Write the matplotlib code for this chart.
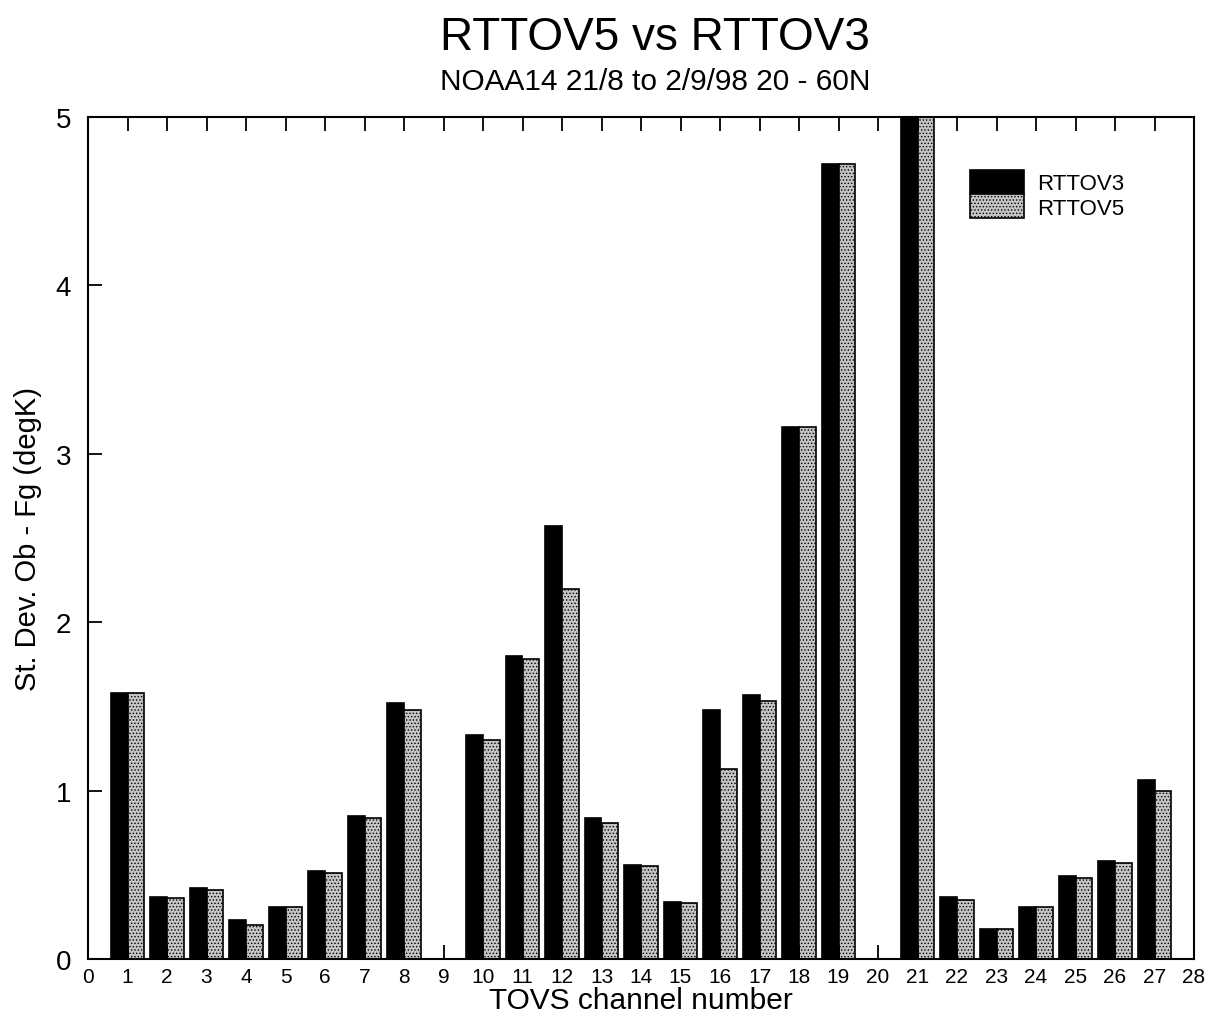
import matplotlib
matplotlib.use("Agg")
import matplotlib.pyplot as plt
import numpy as np

plt.rcParams['font.family'] = ['Liberation Sans', 'DejaVu Sans']
plt.rcParams['hatch.linewidth'] = 0.6

channels = [1, 2, 3, 4, 5, 6, 7, 8, 10, 11, 12, 13, 14, 15, 16, 17, 18, 19,
            21, 22, 23, 24, 25, 26, 27]
rttov3 = [1.58, 0.37, 0.42, 0.23, 0.31, 0.52, 0.85, 1.52, 1.33, 1.80, 2.57,
          0.84, 0.56, 0.34, 1.48, 1.57, 3.16, 4.72, 5.0, 0.37, 0.18, 0.31,
          0.49, 0.58, 1.06]
rttov5 = [1.58, 0.36, 0.41, 0.20, 0.31, 0.51, 0.84, 1.48, 1.30, 1.78, 2.20,
          0.81, 0.55, 0.33, 1.13, 1.53, 3.16, 4.72, 5.0, 0.35, 0.18, 0.31,
          0.48, 0.57, 1.00]
xticks = list(range(0, 29))
yticks = [0, 1, 2, 3, 4, 5]

L, R, T, B = 88, 1194, 118, 960
fig = plt.figure(figsize=(12.11, 10.20), dpi=100)
ax = fig.add_axes([L/1211, 1 - B/1020, (R - L)/1211, (B - T)/1020])

x = np.array(channels, dtype=float)
w = 0.42
ax.bar(x - w/2, rttov3, width=w, color='black', edgecolor='black',
       linewidth=1.2, label='RTTOV3')
ax.bar(x + w/2, rttov5, width=w, facecolor='#c4c4c4', edgecolor='black',
       hatch='.....', linewidth=1.2, label='RTTOV5')

ax.set_xlim(0, 28)
ax.set_ylim(0, 5)
ax.set_xticks(xticks)
ax.set_xticklabels([str(t) for t in xticks], fontsize=15)
ax.set_yticks(yticks)
ax.set_yticklabels([str(t) for t in yticks], fontsize=20)
ax.tick_params(axis='x', direction='in', length=10, width=1.3, top=True,
               bottom=True, pad=6)
ax.tick_params(axis='y', direction='in', length=10, width=1.3, left=True,
               right=False, pad=12)
for s in ax.spines.values():
    s.set_linewidth(1.5)

ax.set_xlabel('TOVS channel number', fontsize=21.5, labelpad=0)
ax.set_ylabel('St. Dev. Ob - Fg (degK)', fontsize=21, labelpad=10)

leg = ax.legend(loc='upper left',
                bbox_to_anchor=((970 - L)/(R - L), 1 - (171 - T)/(B - T)),
                frameon=False, fontsize=16, handlelength=2.43, handleheight=1.26,
                labelspacing=0.0, handletextpad=0.6, borderpad=0,
                borderaxespad=0)

fig.text(655/1211, 1 - 38/1020, 'RTTOV5 vs RTTOV3', fontsize=33,
         ha='center', va='center')
fig.text(655/1211, 1 - 82/1020, 'NOAA14 21/8 to 2/9/98 20 - 60N', fontsize=21.5,
         ha='center', va='center')

fig.savefig('out.png', dpi=100, facecolor='white')
